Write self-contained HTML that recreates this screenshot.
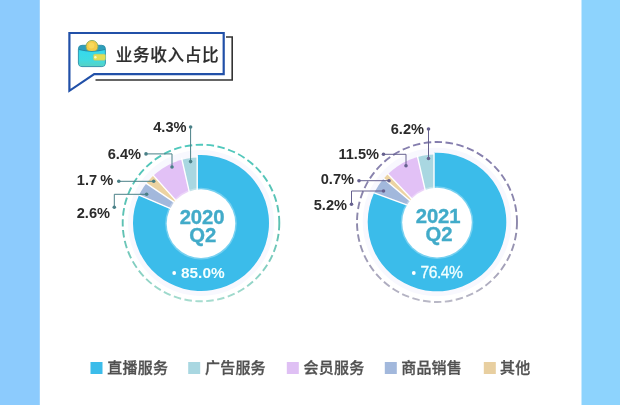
<!DOCTYPE html>
<html lang="zh-CN"><head><meta charset="utf-8"><title>业务收入占比</title>
<style>html,body{margin:0;padding:0;background:#fff;}body{width:620px;height:405px;overflow:hidden;}svg{display:block;}text{font-family:"Liberation Sans", "Noto Sans CJK SC", sans-serif;}</style></head><body>
<svg width="620" height="405" viewBox="0 0 620 405">
<rect x="0" y="0" width="620" height="405" fill="#ffffff"/>
<rect x="0" y="0" width="39.8" height="405" fill="#8ccbfd"/>
<rect x="581.5" y="0" width="38.5" height="405" fill="#8dd3fd"/>
<polyline points="226,37 232.2,37 232.2,80 95.5,80" fill="none" stroke="#333" stroke-width="1.6"/>
<path d="M69.4 33 H223.7 V74.1 H94.2 L69.4 90.8 Z" fill="#fff" stroke="#2150a8" stroke-width="2.2" stroke-linejoin="miter"/>
<linearGradient id="wg" x1="0" y1="0" x2="0" y2="1"><stop offset="0" stop-color="#35d9ee"/><stop offset="0.6" stop-color="#3fdbe3"/><stop offset="1" stop-color="#57d2c4"/></linearGradient>
<g>
<rect x="78.4" y="45.3" width="27" height="21.3" rx="3.6" fill="#2e9fbb" stroke="#2a8ea8" stroke-width="0.9"/>
<circle cx="92" cy="46.4" r="6" fill="#f3cb48" stroke="#86ad62" stroke-width="0.9"/>
<circle cx="91.4" cy="45.6" r="3" fill="#f8d95a"/>
<path d="M78.9 49.2 Q92 52.8 104.9 49.2 V52 H78.9 Z" fill="#23829e"/>
<path d="M78.9 50 Q92 53.6 104.9 50 V63.2 Q104.9 66.1 102 66.1 H81.8 Q78.9 66.1 78.9 63.2 Z" fill="url(#wg)"/>
<rect x="93.2" y="54.1" width="12.4" height="6.3" rx="1.6" fill="#e3de55" stroke="#86c79a" stroke-width="0.6"/>
<circle cx="95.4" cy="57.2" r="1.2" fill="#fdf8c0"/>
</g>
<text x="115.8" y="60.8" font-size="16.6" font-weight="500" fill="#2e2e2e" stroke="#2e2e2e" stroke-width="0.2" letter-spacing="0.65">业务收入占比</text>
<clipPath id="c201"><circle cx="201.00" cy="223.00" r="68.00"/></clipPath>
<clipPath id="d201"><circle cx="199.50" cy="224.70" r="67.30"/></clipPath>
<linearGradient id="g201" gradientUnits="userSpaceOnUse" x1="0" y1="144.7" x2="0" y2="301.3"><stop offset="0" stop-color="#50c8bc"/><stop offset="0.55" stop-color="#5ec0b2"/><stop offset="1" stop-color="#a6dccf"/></linearGradient>
<circle cx="201.00" cy="223.00" r="73.00" fill="#f8f8fe"/>
<circle cx="201.00" cy="223.00" r="78.30" fill="none" stroke="url(#g201)" stroke-width="1.9" stroke-dasharray="7.5 3.5"/>
<g>
<path d="M197.20 155.11 A68.00 68.00 0 1 1 138.97 195.13 L174.19 210.14 L197.20 196.00 Z" fill="#3bbcea"/>
<g clip-path="url(#d201)">
<path d="M197.20 196.00 L197.20 110.00 L174.50 126.60 L189.76 194.11 Z" fill="#a9d7e1"/>
<path d="M189.76 194.11 L174.50 126.60 L130.30 149.60 L179.53 204.64 Z" fill="#e2c1f6"/>
<path d="M179.53 204.64 L130.30 149.60 L124.30 168.40 L179.55 205.81 Z" fill="#ecd3a2"/>
<path d="M179.55 205.81 L124.30 168.40 L105.60 180.90 L174.19 210.14 Z" fill="#a2b8dc"/>
</g>
<g clip-path="url(#c201)">
<line x1="197.20" y1="196.00" x2="197.20" y2="110.00" stroke="#fff" stroke-width="1.4"/>
<line x1="189.76" y1="194.11" x2="174.50" y2="126.60" stroke="#fff" stroke-width="1.4"/>
<line x1="179.53" y1="204.64" x2="130.30" y2="149.60" stroke="#fff" stroke-width="1.4"/>
<line x1="179.55" y1="205.81" x2="124.30" y2="168.40" stroke="#fff" stroke-width="1.4"/>
<line x1="174.19" y1="210.14" x2="105.60" y2="180.90" stroke="#fff" stroke-width="1.4"/>
</g>
</g>
<circle cx="201.00" cy="223.60" r="35.80" fill="#fff" fill-opacity="0.3"/>
<circle cx="201.00" cy="223.60" r="34.30" fill="#fff"/>
<text x="202.00" y="224.00" font-size="20.3" font-weight="700" fill="#42abc9" stroke="#42abc9" stroke-width="0.35" text-anchor="middle" letter-spacing="-0.1">2020</text>
<text x="202.80" y="242.30" font-size="20.3" font-weight="700" fill="#42abc9" stroke="#42abc9" stroke-width="0.35" text-anchor="middle" letter-spacing="-0.1">Q2</text>
<circle cx="174.20" cy="273.00" r="1.9" fill="#fff"/>
<text x="181.00" y="277.70" font-size="15.4" font-weight="700" fill="#f4ffff">85.0%</text>
<clipPath id="c437"><circle cx="437.00" cy="222.00" r="69.30"/></clipPath>
<clipPath id="d437"><circle cx="436.00" cy="223.50" r="69.00"/></clipPath>
<linearGradient id="g437" gradientUnits="userSpaceOnUse" x1="0" y1="142.0" x2="0" y2="302.0"><stop offset="0" stop-color="#857eae"/><stop offset="0.55" stop-color="#8d89ab"/><stop offset="1" stop-color="#b9b8c6"/></linearGradient>
<circle cx="437.00" cy="222.00" r="74.30" fill="#f8f8fe"/>
<circle cx="437.00" cy="222.00" r="80.00" fill="none" stroke="url(#g437)" stroke-width="1.9" stroke-dasharray="7.5 3.5"/>
<g>
<path d="M434.00 152.76 A69.30 69.30 0 1 1 374.15 192.80 L408.10 205.36 L434.00 193.70 Z" fill="#3bbcea"/>
<g clip-path="url(#d437)">
<path d="M434.00 193.70 L434.00 112.00 L410.20 124.70 L425.46 191.35 Z" fill="#a9d7e1"/>
<path d="M425.46 191.35 L410.20 124.70 L366.80 151.90 L412.59 199.84 Z" fill="#e2c1f6"/>
<path d="M412.59 199.84 L366.80 151.90 L360.00 158.60 L412.03 202.46 Z" fill="#ecd3a2"/>
<path d="M412.03 202.46 L360.00 158.60 L343.60 181.50 L408.10 205.36 Z" fill="#a2b8dc"/>
</g>
<g clip-path="url(#c437)">
<line x1="434.00" y1="193.70" x2="434.00" y2="112.00" stroke="#fff" stroke-width="1.4"/>
<line x1="425.46" y1="191.35" x2="410.20" y2="124.70" stroke="#fff" stroke-width="1.4"/>
<line x1="412.59" y1="199.84" x2="366.80" y2="151.90" stroke="#fff" stroke-width="1.4"/>
<line x1="412.03" y1="202.46" x2="360.00" y2="158.60" stroke="#fff" stroke-width="1.4"/>
<line x1="408.10" y1="205.36" x2="343.60" y2="181.50" stroke="#fff" stroke-width="1.4"/>
</g>
</g>
<circle cx="437.00" cy="222.60" r="36.30" fill="#fff" fill-opacity="0.3"/>
<circle cx="437.00" cy="222.60" r="34.80" fill="#fff"/>
<text x="438.10" y="222.80" font-size="20.3" font-weight="700" fill="#42abc9" stroke="#42abc9" stroke-width="0.35" text-anchor="middle" letter-spacing="-0.1">2021</text>
<text x="438.90" y="241.10" font-size="20.3" font-weight="700" fill="#42abc9" stroke="#42abc9" stroke-width="0.35" text-anchor="middle" letter-spacing="-0.1">Q2</text>
<circle cx="413.80" cy="273.00" r="1.9" fill="#fff"/>
<text x="420.60" y="277.70" font-size="15.6" font-weight="400" fill="#f0ffff" stroke="#f0ffff" stroke-width="0.3" letter-spacing="-0.5">76.4%</text>
<polyline points="190.6,127.0 190.6,161.6" fill="none" stroke="#4a8087" stroke-width="1"/>
<circle cx="190.6" cy="127.0" r="1.8" fill="#4a8087"/>
<circle cx="190.6" cy="161.6" r="1.8" fill="#4a8087"/>
<text x="186.5" y="132.0" font-size="14.6" font-weight="700" fill="#2b2b2b" text-anchor="end" word-spacing="0">4.3%</text>
<polyline points="146.0,153.9 172.0,153.9 172.0,167.0" fill="none" stroke="#4a8087" stroke-width="1"/>
<circle cx="146.0" cy="153.9" r="1.8" fill="#4a8087"/>
<circle cx="172.0" cy="167.0" r="1.8" fill="#4a8087"/>
<text x="141.0" y="159.0" font-size="14.6" font-weight="700" fill="#2b2b2b" text-anchor="end" word-spacing="0">6.4%</text>
<polyline points="118.8,181.3 153.7,181.3" fill="none" stroke="#4a8087" stroke-width="1"/>
<circle cx="118.8" cy="181.3" r="1.8" fill="#4a8087"/>
<circle cx="153.7" cy="181.3" r="1.8" fill="#4a8087"/>
<text x="113.3" y="185.2" font-size="14.6" font-weight="700" fill="#2b2b2b" text-anchor="end" word-spacing="-0.8">1.7 %</text>
<polyline points="114.3,207.2 114.3,194.3 146.6,194.3" fill="none" stroke="#4a8087" stroke-width="1"/>
<circle cx="114.3" cy="207.2" r="1.8" fill="#4a8087"/>
<circle cx="146.6" cy="194.3" r="1.8" fill="#4a8087"/>
<text x="110.0" y="217.8" font-size="14.6" font-weight="700" fill="#2b2b2b" text-anchor="end" word-spacing="0">2.6%</text>
<polyline points="428.5,129.0 428.5,158.5" fill="none" stroke="#66618f" stroke-width="1"/>
<circle cx="428.5" cy="129.0" r="1.8" fill="#66618f"/>
<circle cx="428.5" cy="158.5" r="1.8" fill="#66618f"/>
<text x="424.0" y="134.0" font-size="14.6" font-weight="700" fill="#2b2b2b" text-anchor="end" word-spacing="0">6.2%</text>
<polyline points="383.5,154.3 406.0,154.3 406.0,165.7" fill="none" stroke="#66618f" stroke-width="1"/>
<circle cx="383.5" cy="154.3" r="1.8" fill="#66618f"/>
<circle cx="406.0" cy="165.7" r="1.8" fill="#66618f"/>
<text x="379.0" y="158.8" font-size="14.6" font-weight="700" fill="#2b2b2b" text-anchor="end" word-spacing="0">11.5%</text>
<polyline points="359.0,180.7 389.0,180.7" fill="none" stroke="#66618f" stroke-width="1"/>
<circle cx="359.0" cy="180.7" r="1.8" fill="#66618f"/>
<circle cx="389.0" cy="180.7" r="1.8" fill="#66618f"/>
<text x="354.0" y="184.0" font-size="14.6" font-weight="700" fill="#2b2b2b" text-anchor="end" word-spacing="0">0.7%</text>
<polyline points="351.5,204.3 351.5,191.0 383.5,191.0" fill="none" stroke="#66618f" stroke-width="1"/>
<circle cx="351.5" cy="204.3" r="1.8" fill="#66618f"/>
<circle cx="383.5" cy="191.0" r="1.8" fill="#66618f"/>
<text x="347.0" y="209.7" font-size="14.6" font-weight="700" fill="#2b2b2b" text-anchor="end" word-spacing="0">5.2%</text>
<rect x="90.5" y="362" width="12" height="12" fill="#3bbcea"/>
<text x="107.3" y="373.4" font-size="15" font-weight="500" fill="#505050" stroke="#505050" stroke-width="0.3" letter-spacing="0.2">直播服务</text>
<rect x="188.2" y="362" width="12" height="12" fill="#a9d7e1"/>
<text x="205.0" y="373.4" font-size="15" font-weight="500" fill="#505050" stroke="#505050" stroke-width="0.3" letter-spacing="0.2">广告服务</text>
<rect x="286.8" y="362" width="12" height="12" fill="#dfc0f4"/>
<text x="303.6" y="373.4" font-size="15" font-weight="500" fill="#505050" stroke="#505050" stroke-width="0.3" letter-spacing="0.2">会员服务</text>
<rect x="384.8" y="362" width="12" height="12" fill="#a2b8dc"/>
<text x="401.2" y="373.4" font-size="15" font-weight="500" fill="#505050" stroke="#505050" stroke-width="0.3" letter-spacing="0.2">商品销售</text>
<rect x="483.8" y="362" width="12" height="12" fill="#e8cfa0"/>
<text x="500.0" y="373.4" font-size="15" font-weight="500" fill="#505050" stroke="#505050" stroke-width="0.3" letter-spacing="0.2">其他</text>
</svg></body></html>
